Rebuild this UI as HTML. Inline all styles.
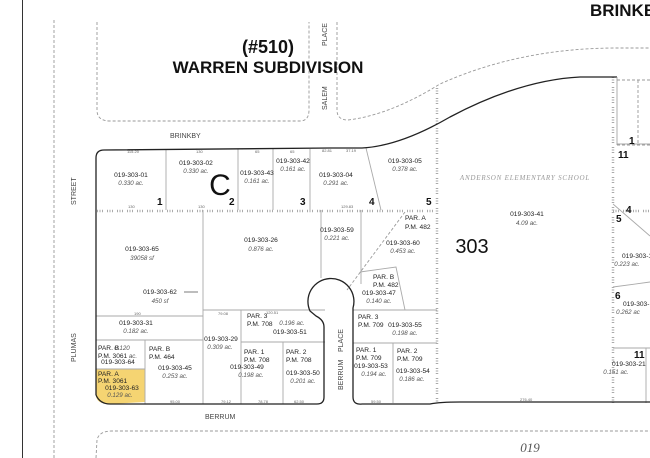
<!DOCTYPE html>
<html><head><meta charset="utf-8"><style>
html,body{margin:0;padding:0;background:#fff;}
svg{display:block;}
text{font-family:"Liberation Sans",sans-serif;}
.p{font-size:6.6px;fill:#222;text-anchor:middle;}
.a{font-size:6.2px;fill:#555;font-style:italic;text-anchor:middle;}
.l{font-size:6.6px;fill:#222;}
.n{font-size:10px;font-weight:bold;fill:#111;}
.d{font-size:4px;fill:#666;}
.r{font-size:7px;fill:#444;}
.g{stroke:#aaa;stroke-width:0.9;fill:none;}
.t{stroke:#aaa;stroke-width:2.5;stroke-dasharray:1 1.5 1 1.5 1 4;fill:none;}
.dash{stroke:#999;stroke-width:0.9;stroke-dasharray:3 2;fill:none;}
</style></head><body>
<svg width="650" height="458" viewBox="0 0 650 458" xmlns="http://www.w3.org/2000/svg">
<rect width="650" height="458" fill="#fff"/>
<line x1="22.5" y1="0" x2="22.5" y2="458" stroke="#333" stroke-width="1"/>
<line x1="54" y1="20" x2="54" y2="458" class="dash"/>
<path d="M97 22 L97 110 Q97 121 110 121 L300 121 Q309 121 309 110 L309 22" class="dash"/>
<path d="M337 22 L337 110 Q337 120 348 120 Q390 115 440 84 Q520 48 617 48 L650 48" class="dash"/>
<path d="M617 80 L650 80 M617 145 L650 145 M638 80 L638 145" class="dash"/>
<path d="M96 458 L97 440 Q99 431 112 431 L650 431" class="dash"/>
<path d="M96 369 L145 369 L145 402 L110 404 Q96 404 96 395 Z" fill="#f5d472"/>
<g class="g">
<line x1="166" y1="150" x2="166" y2="210"/>
<line x1="238" y1="149" x2="238" y2="210"/>
<line x1="273" y1="149" x2="273" y2="210"/>
<line x1="310" y1="149" x2="310" y2="210"/>
<line x1="366" y1="148" x2="381" y2="210"/>
<line x1="203" y1="210" x2="203" y2="404"/>
<line x1="96" y1="316" x2="203" y2="316"/>
<line x1="96" y1="340" x2="203" y2="340"/>
<line x1="145" y1="340" x2="145" y2="404"/>
<line x1="96" y1="369" x2="145" y2="369"/>
<line x1="203" y1="310" x2="325" y2="310"/>
<line x1="241" y1="310" x2="241" y2="404"/>
<line x1="241" y1="342" x2="325" y2="342"/>
<line x1="283" y1="342" x2="283" y2="404"/>
<line x1="321" y1="210" x2="321" y2="278"/>
<line x1="361" y1="210" x2="361" y2="284"/>
<polyline points="360,272 396,267 405,310"/>
<line x1="353" y1="310" x2="437" y2="310"/>
<line x1="353" y1="343" x2="437" y2="343"/>
<line x1="393" y1="343" x2="393" y2="403"/>
<line x1="613" y1="204" x2="650" y2="236"/>
<line x1="613" y1="287" x2="650" y2="282"/>
<line x1="613" y1="348" x2="650" y2="348"/>
<line x1="646" y1="348" x2="646" y2="403"/>
<line x1="617" y1="144" x2="650" y2="144"/>
</g>
<line x1="405" y1="212" x2="347" y2="290" class="dash"/>
<line x1="97" y1="211" x2="437" y2="211" class="t"/>
<line x1="437" y1="88" x2="437" y2="403" class="t"/>
<line x1="613" y1="77" x2="613" y2="403" class="t"/>
<line x1="613" y1="211" x2="650" y2="211" class="t"/>
<g stroke="#222" stroke-width="1.3" fill="none">
<path d="M96 395 L96 158 Q96 150 104 150 L330 148 L362 148 Q400 146 450 117 Q520 80 580 77 L617 77"/>
<path d="M96 395 Q100 404 110 404 L317 404 Q324 404 324 397 L324 327 Q324 320 316 316 L310 311 A23 23 0 1 1 353 308 L353 397 Q353 405 362 404 L430 404 Q440 402 460 402 L650 402"/>
</g>
<line x1="617" y1="77" x2="617" y2="145" stroke="#999" stroke-width="0.8"/>
<text x="268" y="53" font-size="18" font-weight="bold" text-anchor="middle" fill="#111">(#510)</text>
<text x="268" y="73" font-size="17" font-weight="bold" text-anchor="middle" fill="#111">WARREN SUBDIVISION</text>
<text x="590" y="16" font-size="17" font-weight="bold" fill="#111">BRINKB</text>
<text x="220" y="195" font-size="30" fill="#111" text-anchor="middle">C</text>
<text x="472" y="253" font-size="20" fill="#111" text-anchor="middle">303</text>
<text x="525" y="180" font-size="7" font-style="italic" fill="#999" text-anchor="middle" letter-spacing="0.8" style="font-family:'Liberation Serif',serif">ANDERSON   ELEMENTARY   SCHOOL</text>
<text x="530" y="452" font-size="13" font-style="italic" fill="#555" text-anchor="middle" style="font-family:'Liberation Serif',serif">019</text>
<text x="170" y="138" class="r">BRINKBY</text>
<text x="205" y="419" class="r">BERRUM</text>
<text class="r" transform="translate(76,205) rotate(-90)">STREET</text>
<text class="r" transform="translate(76,362) rotate(-90)">PLUMAS</text>
<text class="r" transform="translate(343,352) rotate(-90)">PLACE</text>
<text class="r" transform="translate(343,390) rotate(-90)">BERRUM</text>
<text class="r" transform="translate(327,110) rotate(-90)">SALEM</text>
<text class="r" transform="translate(327,46) rotate(-90)">PLACE</text>
<text x="157" y="205" class="n">1</text><text x="229" y="205" class="n">2</text>
<text x="300" y="205" class="n">3</text><text x="369" y="205" class="n">4</text>
<text x="426" y="205" class="n">5</text>
<text x="629" y="144" class="n">1</text><text x="618" y="158" class="n">11</text>
<text x="626" y="213" class="n">4</text><text x="616" y="222" class="n">5</text>
<text x="615" y="299" class="n">6</text><text x="634" y="358" class="n">11</text>
<text x="131" y="177" class="p">019-303-01</text><text x="131" y="185" class="a">0.330 ac.</text>
<text x="196" y="165" class="p">019-303-02</text><text x="196" y="173" class="a">0.330 ac.</text>
<text x="257" y="175" class="p">019-303-43</text><text x="257" y="183" class="a">0.161 ac.</text>
<text x="293" y="163" class="p">019-303-42</text><text x="293" y="171" class="a">0.161 ac.</text>
<text x="336" y="177" class="p">019-303-04</text><text x="336" y="185" class="a">0.291 ac.</text>
<text x="405" y="163" class="p">019-303-05</text><text x="405" y="171" class="a">0.378 ac.</text>
<text x="142" y="251" class="p">019-303-65</text><text x="142" y="260" class="a">39058 sf</text>
<text x="261" y="242" class="p">019-303-26</text><text x="261" y="251" class="a">0.876 ac.</text>
<text x="337" y="232" class="p">019-303-59</text><text x="337" y="240" class="a">0.221 ac.</text>
<text x="403" y="245" class="p">019-303-60</text><text x="403" y="253" class="a">0.453 ac.</text>
<text x="405" y="220" class="l">PAR. A</text><text x="405" y="229" class="l">P.M. 482</text>
<text x="160" y="294" class="p">019-303-62</text><text x="160" y="303" class="a">450 sf</text>
<line x1="184" y1="292" x2="198" y2="292" stroke="#222" stroke-width="0.6"/>
<text x="527" y="216" class="p">019-303-41</text><text x="527" y="225" class="a">4.09 ac.</text>
<text x="373" y="279" class="l">PAR. B</text><text x="373" y="287" class="l">P.M. 482</text>
<text x="379" y="295" class="p">019-303-47</text><text x="379" y="303" class="a">0.140 ac.</text>
<text x="136" y="325" class="p">019-303-31</text><text x="136" y="333" class="a">0.182 ac.</text>
<text x="98" y="350" class="l">PAR. B</text><text x="122" y="350" class="a" text-anchor="start">0.120</text>
<text x="98" y="358" class="l">P.M. 3061</text><text x="133" y="358" class="a" text-anchor="start">ac.</text>
<text x="118" y="364" class="p">019-303-64</text>
<text x="149" y="351" class="l">PAR. B</text><text x="149" y="359" class="l">P.M. 464</text>
<text x="175" y="370" class="p">019-303-45</text><text x="175" y="378" class="a">0.253 ac.</text>
<text x="98" y="376" class="l" fill="#8a6a20">PAR. A</text><text x="98" y="383" class="l">P.M. 3061</text>
<text x="122" y="390" class="p">019-303-63</text><text x="120" y="397" class="a">0.129 ac.</text>
<text x="221" y="341" class="p">019-303-29</text><text x="220" y="349" class="a">0.309 ac.</text>
<text x="247" y="318" class="l">PAR. 3</text><text x="247" y="326" class="l">P.M. 708</text>
<text x="292" y="325" class="a">0.196 ac.</text><text x="290" y="334" class="p">019-303-51</text>
<text x="244" y="354" class="l">PAR. 1</text><text x="244" y="362" class="l">P.M. 708</text>
<text x="247" y="369" class="p">019-303-49</text><text x="251" y="377" class="a">0.198 ac.</text>
<text x="286" y="354" class="l">PAR. 2</text><text x="286" y="362" class="l">P.M. 708</text>
<text x="303" y="375" class="p">019-303-50</text><text x="303" y="383" class="a">0.201 ac.</text>
<text x="358" y="319" class="l">PAR. 3</text><text x="358" y="327" class="l">P.M. 709</text>
<text x="405" y="327" class="p">019-303-55</text><text x="405" y="335" class="a">0.198 ac.</text>
<text x="356" y="352" class="l">PAR. 1</text><text x="356" y="360" class="l">P.M. 709</text>
<text x="371" y="368" class="p">019-303-53</text><text x="374" y="376" class="a">0.194 ac.</text>
<text x="397" y="353" class="l">PAR. 2</text><text x="397" y="361" class="l">P.M. 709</text>
<text x="413" y="373" class="p">019-303-54</text><text x="412" y="381" class="a">0.186 ac.</text>
<text x="622" y="258" class="l">019-303-1</text><text x="627" y="266" class="a" text-anchor="start">0.223 ac.</text>
<text x="623" y="306" class="l">019-303-</text><text x="628" y="314" class="a" text-anchor="start">0.262 ac</text>
<text x="612" y="366" class="l">019-303-21</text><text x="616" y="374" class="a" text-anchor="start">0.151 ac.</text>
<text x="127" y="153" class="d">115.20</text><text x="196" y="153" class="d">130</text>
<text x="255" y="153" class="d">65</text><text x="290" y="153" class="d">65</text>
<text x="322" y="152" class="d">82.81</text><text x="346" y="152" class="d">37.19</text>
<text x="128" y="208" class="d">130</text><text x="198" y="208" class="d">130</text>
<text x="341" y="208" class="d">129.83</text><text x="134" y="315" class="d">190</text>
<text x="218" y="315" class="d">79.08</text><text x="266" y="314" class="d">120.51</text>
<text x="170" y="403" class="d">95.00</text><text x="221" y="403" class="d">79.12</text>
<text x="258" y="403" class="d">78.78</text><text x="294" y="403" class="d">62.50</text>
<text x="371" y="403" class="d">59.50</text><text x="520" y="401" class="d">276.40</text>
</svg>
</body></html>
